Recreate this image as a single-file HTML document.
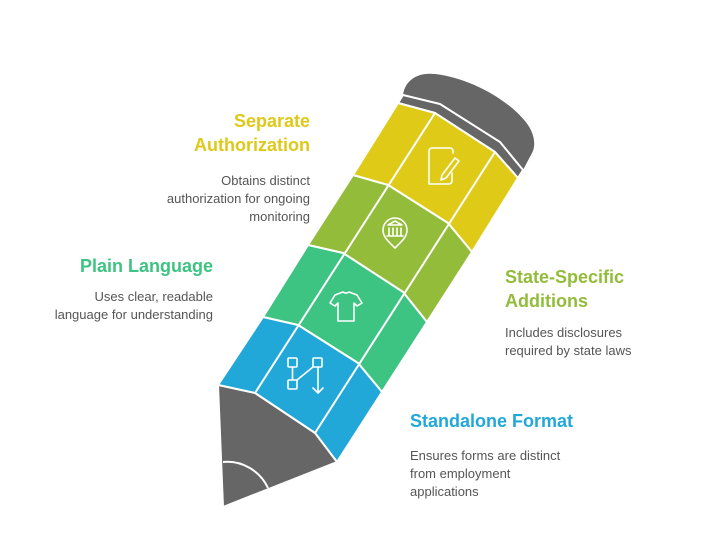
<!DOCTYPE html>
<html><head><meta charset="utf-8"><style>
html,body{margin:0;padding:0;background:#fff;}
body{width:720px;height:557px;position:relative;overflow:hidden;font-family:"Liberation Sans",sans-serif;}
.t{position:absolute;font-weight:bold;font-size:18px;line-height:24px;}
.d{position:absolute;font-size:13px;line-height:18px;color:#555;}
</style></head><body>
<svg width="720" height="557" style="position:absolute;left:0;top:0">
<g stroke="#fff" stroke-width="2" stroke-linejoin="round">
<!-- eraser -->
<path d="M403,95 C405,80 418,72 435,74 C470,78 510,100 528,125 C536,137 535,148 532,153 L523,170 L500,142 L440,104 Z" fill="#666" stroke="none"/>
<!-- ferrule -->
<polygon points="403,95 440,104 500,142 523,170 518,178 495,152 435,113 398,103" fill="#666"/>
<!-- yellow -->
<polygon points="398,103 435,113 495,152 518,178 472,252 448,223 388,185 353,175" fill="#dfcb17"/>
<!-- olive -->
<polygon points="353,175 388,185 448,223 472,252 427,322 403,292 343,253 308,245" fill="#93bc3a"/>
<!-- green -->
<polygon points="308,245 343,253 403,292 427,322 382,392 358,363 298,325 263,317" fill="#3ec482"/>
<!-- blue -->
<polygon points="263,317 298,325 358,363 382,392 337,462 315,433 255,393 218,385" fill="#21a8d8"/>
<!-- tip -->
<polygon points="218,385 255,393 315,433 337,462 223,507" fill="#666"/>
<line x1="255" y1="393" x2="435" y2="113"/>
<line x1="315" y1="433" x2="495" y2="152"/>
<path d="M223,462 A45,45 0 0 1 268,488" fill="none"/>
</g>
<g fill="none" stroke="#fff" stroke-width="1.6" stroke-linecap="round" stroke-linejoin="round">
<!-- document pen -->
<path d="M432,148 h18 a3,3 0 0 1 3,3 v2 M432,148 a3,3 0 0 0 -3,3 v33 h20 M449,184 a3,3 0 0 0 3,-3 v-8"/>
<path d="M455,158 l4,3 l-13,17 l-5,2 l1,-5 z"/>
<!-- bank pin -->
<path d="M395,248 c-7,-7 -12,-11 -12,-18 a12,12 0 0 1 24,0 c0,7 -5,11 -12,18 z"/>
<path d="M388,225 l7,-4 l7,4 z M389,228 v7 M393,228 v7 M397,228 v7 M401,228 v7 M387,236 h16"/>
<!-- shirt -->
<path d="M343,292 l-8,3 l-5,8 l5,3 l3,-3 v18 h16 v-18 l3,3 l5,-3 l-5,-8 l-8,-3 a4,3 0 0 1 -6,0 z"/>
<!-- flow -->
<rect x="288" y="358" width="9" height="9" rx="1"/>
<rect x="288" y="380" width="9" height="9" rx="1"/>
<rect x="313" y="358" width="9" height="9" rx="1"/>
<path d="M292.5,367 v13 M297,380 l16,-13 M318,367 v26 M313,388 l5,5 l5,-5"/>
</g>
</svg>
<div class="t" style="right:410px;top:109px;text-align:right;color:#dfc918">Separate<br>Authorization</div>
<div class="d" style="right:410px;top:172px;text-align:right">Obtains distinct<br>authorization for ongoing<br>monitoring</div>
<div class="t" style="right:507px;top:254px;text-align:right;color:#3ec482">Plain Language</div>
<div class="d" style="right:507px;top:288px;text-align:right">Uses clear, readable<br>language for understanding</div>
<div class="t" style="left:505px;top:265px;color:#93bc3a">State-Specific<br>Additions</div>
<div class="d" style="left:505px;top:324px">Includes disclosures<br>required by state laws</div>
<div class="t" style="left:410px;top:409px;color:#21a8d8">Standalone Format</div>
<div class="d" style="left:410px;top:447px">Ensures forms are distinct<br>from employment<br>applications</div>
</body></html>
